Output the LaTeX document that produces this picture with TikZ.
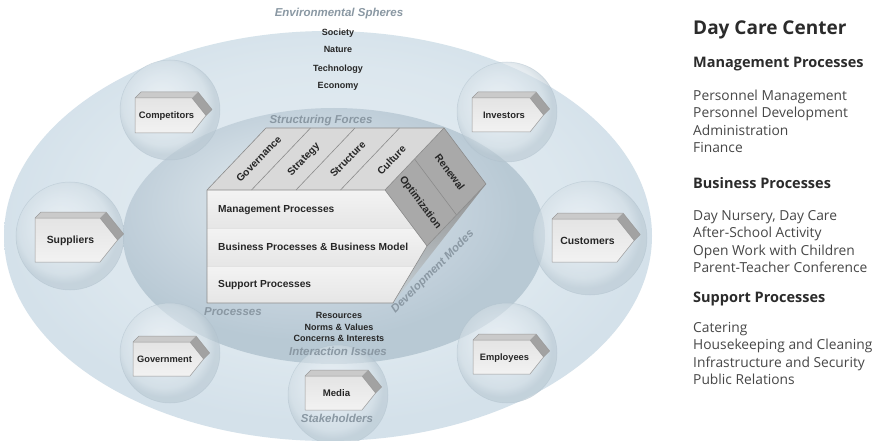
\documentclass[tikz,border=0pt]{standalone}
\usepackage{fontspec}
\setmainfont{Liberation Sans}
\newfontfamily\panelfont{Open Sans}
\newcommand\myfs[1]{\fontsize{#1}{#1}\selectfont}
\definecolor{txt}{HTML}{262626}
\definecolor{lblgray}{HTML}{8A98A3}
\definecolor{pnlhead}{HTML}{2B2B2B}
\definecolor{pnlbody}{HTML}{474747}
\definecolor{outc}{HTML}{E4ECF2}
\definecolor{outm}{HTML}{DCE7EE}
\definecolor{oute}{HTML}{D4E1EA}
\definecolor{inhi}{HTML}{E6EDF2}
\definecolor{inmid}{HTML}{D0DCE4}
\definecolor{inlo}{HTML}{BFCED9}
\definecolor{inedge}{HTML}{B8C9D4}
\definecolor{bubhi}{HTML}{F4F7F9}
\definecolor{bubin}{HTML}{E2EAF0}
\definecolor{bubmid}{HTML}{D3DEE5}
\definecolor{bubedge}{HTML}{B9C8D2}
\definecolor{bubrim}{HTML}{AEBFCB}
\definecolor{cubeedge}{HTML}{8C8C8C}
\definecolor{topf}{HTML}{D9D9D9}
\definecolor{sidef}{HTML}{A9A9A9}
\definecolor{rowtop}{HTML}{F3F3F3}
\definecolor{rowbot}{HTML}{E6E6E6}
\definecolor{wedgetop}{HTML}{8F8F8F}
\definecolor{wedgebot}{HTML}{C8D2D8}
\definecolor{bxfronttop}{HTML}{E4E4E4}
\definecolor{bxfrontbot}{HTML}{F2F2F2}
\definecolor{bxtop}{HTML}{CACACA}
\definecolor{bxside}{HTML}{A2A2A2}
\definecolor{bxedge}{HTML}{9A9A9A}
\pgfdeclareradialshading{outsh}{\pgfpoint{0bp}{4bp}}{color(0bp)=(outc); color(18bp)=(outm); color(25bp)=(oute); color(50bp)=(oute)}
\pgfdeclareradialshading{innsh}{\pgfpoint{-6bp}{9bp}}{color(0bp)=(inhi); color(11bp)=(inmid); color(21bp)=(inlo); color(25bp)=(inedge); color(50bp)=(inedge)}
\pgfdeclareradialshading{bubsh}{\pgfpoint{-5bp}{6bp}}{color(0bp)=(bubhi); color(13bp)=(bubin); color(21bp)=(bubmid); color(25bp)=(bubedge); color(50bp)=(bubedge)}
\tikzset{
  lbl/.style={font=\bfseries\myfs{9}, text=txt, inner sep=0pt, text depth=0pt},
  rowlbl/.style={font=\bfseries\myfs{10.2}, text=txt, inner sep=0pt, text depth=0pt, anchor=west},
  rlbl/.style={font=\bfseries\myfs{10.3}, text=txt, inner sep=0pt, text depth=0pt},
  glbl/.style={font=\bfseries\itshape\myfs{11.5}, text=lblgray, inner sep=0pt, text depth=0pt},
  boxlbl/.style={text=txt, inner sep=0pt, text depth=0pt},
  ptitle/.style={font=\panelfont\bfseries\myfs{19}, text=pnlhead, inner sep=0pt, anchor=base west},
  phead/.style={font=\panelfont\bfseries\myfs{14.5}, text=pnlhead, inner sep=0pt, anchor=base west},
  pbody/.style={font=\panelfont\myfs{13.8}, text=pnlbody, inner sep=0pt, anchor=base west},
  bubble/.style={shading=bubsh, opacity=0.6},
  bubline/.style={draw=bubrim, line width=0.5pt, opacity=0.5},
  cedge/.style={draw=cubeedge, line width=0.6pt, line join=round},
  sepline/.style={draw=white!75!cubeedge, line width=0.8pt},
  rowsh/.style={top color=rowtop, bottom color=rowbot},
  pics/sbox/.style n args={4}{code={
    \pgfmathsetmacro\sbw{#1}
    \pgfmathsetmacro\sbh{#2}
    \pgfmathsetmacro\sbk{0.4*#2}
    \shade[top color=bxfronttop, bottom color=bxfrontbot] (0,0) -- (\sbw,0) -- ({\sbw+\sbk},{\sbh/2}) -- (\sbw,\sbh) -- (0,\sbh) -- cycle;
    \fill[bxtop] (0,0) -- (6,-6) -- ({\sbw+6},-6) -- (\sbw,0) -- cycle;
    \fill[bxside] (\sbw,0) -- ({\sbw+6},-6) -- ({\sbw+\sbk+6},{\sbh/2-6}) -- ({\sbw+\sbk},{\sbh/2}) -- cycle;
    \draw[bxedge, line width=0.5pt, line join=round] (0,\sbh) -- (0,0) -- (6,-6) -- ({\sbw+6},-6) -- ({\sbw+\sbk+6},{\sbh/2-6}) -- ({\sbw+\sbk},{\sbh/2}) -- (\sbw,\sbh) -- cycle;
    \draw[bxedge, line width=0.5pt, line join=round] (0,0) -- (\sbw,0) -- ({\sbw+\sbk},{\sbh/2});
    \node[boxlbl, font=\bfseries\myfs{#4}] (-t) at ({\sbw/2+3},{\sbh/2}) {#3};
  }}
}
\begin{document}
\begin{tikzpicture}[x=1pt,y=-1pt]
\useasboundingbox (0,0) rectangle (881,441);
\fill[white] (0,0) rectangle (881,441);
% ellipses
\shade[shading=outsh] (328,236) ellipse [x radius=324pt, y radius=205pt];
\shade[shading=innsh] (334,236) ellipse [x radius=211pt, y radius=128pt];
% bubbles
\foreach \cx/\cy/\r in {170/110/50, 507/112/50, 70/236/54, 590/238/57, 170/353/50, 507/353/50, 338/395/50}{
  \shade[bubble] (\cx,\cy) circle [radius=\r pt];
  \draw[bubline] (\cx,\cy) circle [radius=\r pt];
}
% environmental spheres
\node[glbl] (env) at (339,12) {Environmental Spheres};
\node[lbl] (soc) at (338,32) {Society};
\node[lbl] (nat) at (338,49) {Nature};
\node[lbl] (tec) at (338,68) {Technology};
\node[lbl] (eco) at (338,85) {Economy};
% cube
\shade[top color=wedgetop, bottom color=wedgebot] (427,246) -- (486,184) -- (393,303) -- cycle;
\shade[rowsh] (207,190) -- (385,190) -- (413.5,228) -- (207,228) -- cycle;
\shade[rowsh] (207,228) -- (413.5,228) -- (427,246) -- (415,266) -- (207,266) -- cycle;
\shade[rowsh] (207,266) -- (415,266) -- (393,303) -- (207,303) -- cycle;
\draw[sepline] (207,228) -- (413.5,228);
\draw[sepline] (207,266) -- (415,266);
\fill[topf] (207,190) -- (385,190) -- (444,128) -- (266,128) -- cycle;
\fill[sidef] (385,190) -- (444,128) -- (486,184) -- (427,246) -- cycle;
\draw[cedge] (251.5,190) -- (310.5,128);
\draw[cedge] (296,190) -- (355,128);
\draw[cedge] (340.5,190) -- (399.5,128);
\draw[cedge] (414.5,159) -- (456.5,215);
\draw[cedge] (207,303) -- (207,190) -- (266,128) -- (444,128) -- (486,184) -- (427,246) -- (393,303) -- cycle;
\draw[cedge] (207,190) -- (385,190) -- (427,246);
\draw[cedge] (385,190) -- (444,128);
\node[glbl] (sf) at (321,119) {Structuring Forces};
\node[rlbl, rotate=46] (gov) at (258.75,159) {Governance};
\node[rlbl, rotate=46] (str) at (303.25,159) {Strategy};
\node[rlbl, rotate=46] (stc) at (347.75,159) {Structure};
\node[rlbl, rotate=46] (cul) at (391.5,160) {Culture};
\node[rlbl, rotate=-53] (opt) at (421,202) {Optimization};
\node[rlbl, rotate=-53] (ren) at (450,172) {Renewal};
\node[rowlbl] (mp) at (218,209) {Management Processes};
\node[rowlbl] (bp) at (218,247) {Business Processes \& Business Model};
\node[rowlbl] (sp) at (218,284) {Support Processes};
\node[glbl, rotate=45] (dev) at (432,271) {Development Modes};
\node[glbl] (proc) at (233,312) {Processes};
\node[lbl] (res) at (339,315) {Resources};
\node[lbl] (nor) at (339,327) {Norms \& Values};
\node[lbl] (con) at (339,338) {Concerns \& Interests};
\node[glbl] (ii) at (338,351) {Interaction Issues};
% stakeholders
\pic (comp) at (135,98) {sbox={57}{35}{Competitors}{9.4}};
\pic (inv) at (472,98) {sbox={58}{34}{Investors}{9.4}};
\pic (sup) at (35,218) {sbox={65}{44}{Suppliers}{10.4}};
\pic (cus) at (552,219) {sbox={65}{43}{Customers}{10.4}};
\pic (gvt) at (133,342) {sbox={57}{34}{Government}{9.3}};
\pic (emp) at (473,340) {sbox={57}{34}{Employees}{9.3}};
\pic (med) at (305,376) {sbox={57}{34}{Media}{9.6}};
\node[glbl] (stk) at (337,418) {Stakeholders};
% right panel
\node[ptitle] (dcc) at (693,35) {Day Care Center};
\node[phead] (hmp) at (693,68) {Management Processes};
\node[pbody] (b1) at (693,100.5) {Personnel Management};
\node[pbody] (b2) at (693,118) {Personnel Development};
\node[pbody] (b3) at (693,135.5) {Administration};
\node[pbody] (b4) at (693,153) {Finance};
\node[phead] (hbp) at (693,188) {Business Processes};
\node[pbody] (b5) at (693,220) {Day Nursery, Day Care};
\node[pbody] (b6) at (693,237.5) {After-School Activity};
\node[pbody] (b7) at (693,255) {Open Work with Children};
\node[pbody] (b8) at (693,272.5) {Parent-Teacher Conference};
\node[phead] (hsp) at (693,302) {Support Processes};
\node[pbody] (b9) at (693,332) {Catering};
\node[pbody] (b10) at (693,349.5) {Housekeeping and Cleaning};
\node[pbody] (b11) at (693,367) {Infrastructure and Security};
\node[pbody] (b12) at (693,384.5) {Public Relations};
\end{tikzpicture}
\end{document}
